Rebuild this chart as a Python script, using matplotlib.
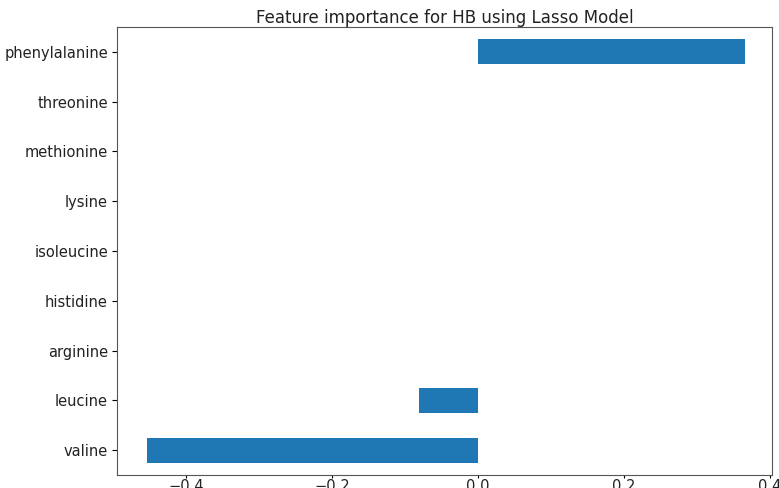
import matplotlib
matplotlib.use("Agg")
import matplotlib.pyplot as plt

features = ["valine", "leucine", "arginine", "histidine", "isoleucine",
            "lysine", "methionine", "threonine", "phenylalanine"]
importance = [-0.454, -0.081, 0.0, 0.0, 0.0, 0.0, 0.0, 0.0, 0.366]
xticks = [-0.4, -0.2, 0.0, 0.2, 0.4]

fig = plt.figure(figsize=(7.79, 4.88), dpi=100)
ax = fig.add_axes([117/779, 1 - 475/488, (772-117)/779, (475-27)/488])
ax.barh(range(len(features)), importance, height=0.5, color="#1f77b4")
ax.set_yticks(range(len(features)))
ax.set_yticklabels(features, fontsize=10.5, color="#222222")
ax.set_ylim(-0.5, len(features) - 0.5)
ax.set_xticks(xticks)
ax.set_xticklabels([f"{t:.1f}".replace("-", "\u2212") for t in xticks],
                   fontsize=10.5, color="#222222")
ax.tick_params(axis="x", length=2.5, pad=0.5)
ax.tick_params(axis="y", length=3.5, pad=3)
ax.set_xlim(-0.495, 0.403)
for s in ax.spines.values():
    s.set_color("#555555")
ax.set_title("Feature importance for HB using Lasso Model", fontsize=12, pad=3,
             color="#222222")
fig.savefig("out.png", dpi=100)
